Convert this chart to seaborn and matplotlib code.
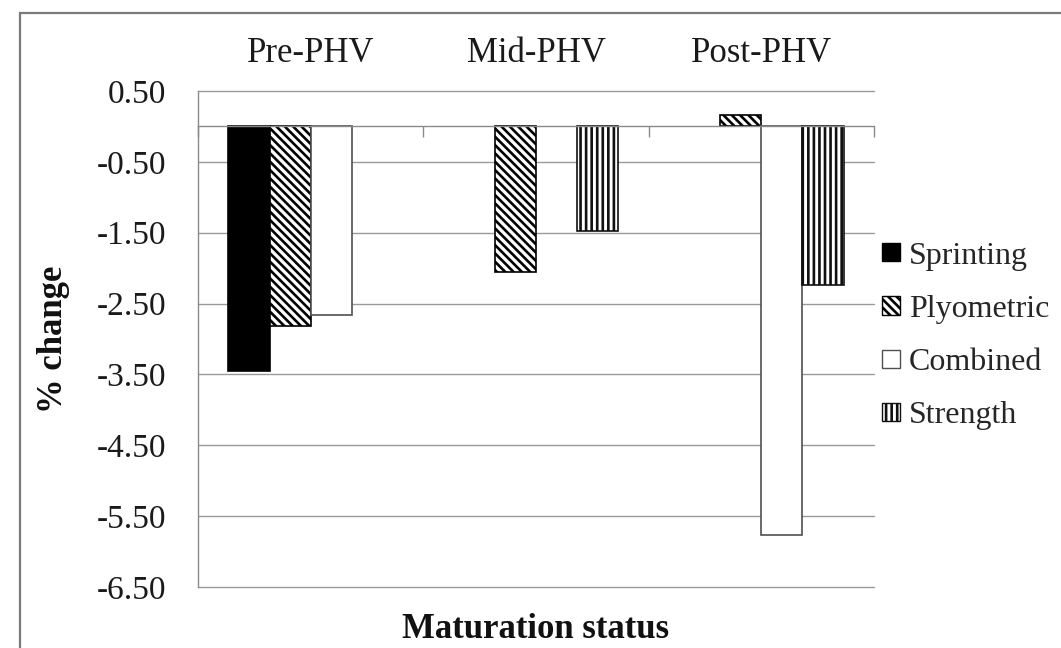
import numpy as np
import pandas as pd
import matplotlib
matplotlib.use("Agg")
import matplotlib.pyplot as plt
import matplotlib.patches as mpatches
from matplotlib.ticker import FormatStrFormatter, FixedLocator
import seaborn as sns

# ---- data ----
stages = ["Pre-PHV", "Mid-PHV", "Post-PHV"]
groups = ["Sprinting", "Plyometric", "Combined", "Strength"]
sprinting = [-3.45, np.nan, np.nan]
plyometric = [-2.82, -2.06, 0.16]
combined = [-2.66, np.nan, -5.77]
strength = [np.nan, -1.48, -2.24]
yticks = [0.50, -0.50, -1.50, -2.50, -3.50, -4.50, -5.50, -6.50]

series = {"Sprinting": sprinting, "Plyometric": plyometric,
          "Combined": combined, "Strength": strength}
rows = []
for g in groups:
    for s, v in zip(stages, series[g]):
        rows.append({"Stage": s, "Group": g, "Change": v})
df = pd.DataFrame(rows).dropna()

# ---- style ----
sns.set_style("white")
plt.rcParams["font.family"] = ["Liberation Serif", "DejaVu Serif"]
plt.rcParams["axes.unicode_minus"] = False
plt.rcParams["hatch.linewidth"] = 1.9

fills = {"Sprinting": "black", "Plyometric": "white", "Combined": "white", "Strength": "white"}
hatches = {"Sprinting": "", "Plyometric": "\\\\\\\\", "Combined": "", "Strength": "|||"}
edges = {"Sprinting": "black", "Plyometric": "black", "Combined": "#505050", "Strength": "#101010"}

fig = plt.figure(figsize=(10.61, 6.48), dpi=100)
ax = fig.add_axes([198/1061, 1-587/648, (874-198)/1061, (587-91)/648])

sns.barplot(data=df, x="Stage", y="Change", hue="Group", order=stages,
            hue_order=groups, palette=fills, width=0.73, errorbar=None,
            saturation=1, linewidth=1.2, edgecolor="black", legend=False, ax=ax)

for g, cont in zip(groups, ax.containers):
    for bar in cont:
        bar.set_hatch(hatches[g])
        bar.set_edgecolor(edges[g])
        bar.set_facecolor(fills[g])

ax.set_ylim(-6.5, 0.5)
ax.set_xlim(-0.5, 2.5)
ax.yaxis.set_major_locator(FixedLocator(yticks))
ax.yaxis.set_major_formatter(FormatStrFormatter("%.2f"))
ax.grid(axis="y", color="#9a9a9a", linewidth=1.0)
ax.set_axisbelow(True)
for gl in ax.get_ygridlines():
    gl.set_clip_on(False)

for sp in ["top", "right"]:
    ax.spines[sp].set_visible(False)
ax.spines["left"].set_color("#8a8a8a")
ax.spines["left"].set_linewidth(1.0)
ax.spines["bottom"].set_position(("data", 0))
ax.spines["bottom"].set_color("#8a8a8a")
ax.spines["bottom"].set_linewidth(1.0)

ax.tick_params(axis="y", which="major", length=8, width=1.0, color="#8a8a8a",
               direction="out", pad=15, labelsize=24, labelcolor="#1a1a1a")
ax.xaxis.set_minor_locator(FixedLocator([-0.5, 0.5, 1.5, 2.5]))
ax.tick_params(axis="x", which="major", bottom=False, top=True, labelbottom=False,
               labeltop=True, length=0, pad=15, labelsize=25, labelcolor="#1a1a1a")
ax.tick_params(axis="x", which="minor", bottom=True, top=False, length=8, width=1.0,
               color="#8a8a8a", direction="out")
ax.set_xlabel("")
ax.set_ylabel("")

fig.text(536/1061, 1-630/648, "Maturation status", ha="center", va="center",
         fontsize=25, fontweight="bold", color="#111111")
fig.text(54/1061, 1-339/648, "% change", ha="center", va="center", rotation=90,
         fontsize=25, fontweight="bold", color="#111111")

handles = [mpatches.Patch(facecolor=fills[g], edgecolor=edges[g], hatch=hatches[g],
                          linewidth=1.0, label=g) for g in groups]
fig.legend(handles=handles, loc="center left", bbox_to_anchor=(882/1061, 1-336/648),
           frameon=False, fontsize=23, handlelength=0.55, handleheight=0.5,
           handletextpad=0.3, labelspacing=0.76, borderpad=0, borderaxespad=0)

fig.patches.append(mpatches.Rectangle((20/1061, -0.2), 1.2, 0.2 + (1-13/648),
                                      transform=fig.transFigure, fill=False,
                                      edgecolor="#7a7a7a", linewidth=1.6))

fig.savefig("out.png", dpi=100)
